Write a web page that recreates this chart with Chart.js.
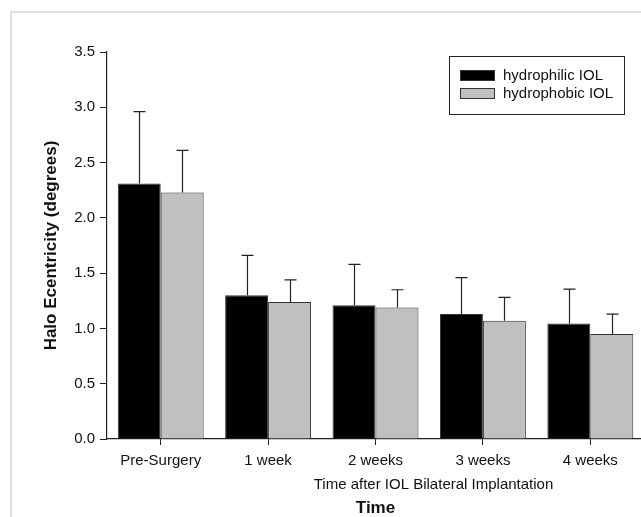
<!DOCTYPE html>
<html>
<head>
<meta charset="utf-8">
<script src="https://cdn.jsdelivr.net/npm/chart.js@4.4.1/dist/chart.umd.min.js"></script>
<style>
html,body{margin:0;padding:0;background:#fff;overflow:hidden;}
#wrap{position:absolute;left:0;top:0;width:650px;height:517px;}
</style>
</head>
<body>
<div id="wrap"><canvas id="c" width="650" height="517"></canvas></div>
<script>
const categories = ["Pre-Surgery", "1 week", "2 weeks", "3 weeks", "4 weeks"];
const seriesNames = ["hydrophilic IOL", "hydrophobic IOL"];
const hydrophilic = [2.31, 1.30, 1.21, 1.13, 1.045];
const hydrophobic = [2.23, 1.24, 1.19, 1.07, 0.95];
const hydrophilicUpper = [2.96, 1.66, 1.58, 1.46, 1.355];
const hydrophobicUpper = [2.61, 1.44, 1.35, 1.28, 1.13];
const yTicks = [0, 0.5, 1.0, 1.5, 2.0, 2.5, 3.0, 3.5];
const yTitle = "Halo Ecentricity (degrees)";
const xTitle = "Time";
const xSubtitle = "Time after IOL Bilateral Implantation";

const FONT = "'Liberation Sans', Arial, sans-serif";
const upperBySeries = [hydrophilicUpper, hydrophobicUpper];

const decor = {
  id: 'decor',
  beforeDraw(chart) {
    const ctx = chart.ctx;
    ctx.save();
    ctx.strokeStyle = '#d4d4d4';
    ctx.lineWidth = 1.5;
    ctx.beginPath();
    ctx.moveTo(11, 517);
    ctx.lineTo(11, 12);
    ctx.lineTo(650, 12);
    ctx.stroke();
    ctx.restore();
  },
  afterDatasetsDraw(chart) {
    const ctx = chart.ctx;
    const y = chart.scales.y;
    ctx.save();
    ctx.strokeStyle = '#222';
    ctx.lineWidth = 1.2;
    chart.data.datasets.forEach((ds, di) => {
      const meta = chart.getDatasetMeta(di);
      meta.data.forEach((bar, i) => {
        const top = y.getPixelForValue(ds.data[i]);
        const up = y.getPixelForValue(upperBySeries[di][i]);
        const x = Math.round(bar.x) + 0.5;
        ctx.beginPath();
        ctx.moveTo(x, top);
        ctx.lineTo(x, up);
        ctx.moveTo(x - 6, up);
        ctx.lineTo(x + 6, up);
        ctx.stroke();
      });
    });
    ctx.restore();
  },
  afterDraw(chart) {
    const ctx = chart.ctx;
    const ca = chart.chartArea;
    ctx.save();
    // legend
    ctx.strokeStyle = '#222';
    ctx.lineWidth = 1;
    ctx.strokeRect(449.5, 56.5, 175, 58);
    chart.data.datasets.forEach((ds, di) => {
      const sy = 70 + di * 18;
      ctx.fillStyle = ds.backgroundColor;
      ctx.fillRect(460, sy, 35, 11);
      ctx.strokeStyle = '#333';
      ctx.strokeRect(460.5, sy + 0.5, 34, 10);
      ctx.fillStyle = '#111';
      ctx.font = "15px " + FONT;
      ctx.textAlign = 'left';
      ctx.textBaseline = 'middle';
      ctx.fillText(ds.label, 503, sy + 5.5);
    });
    // subtitle under category labels
    ctx.fillStyle = '#111';
    ctx.font = "15px " + FONT;
    ctx.textAlign = 'center';
    ctx.textBaseline = 'alphabetic';
    ctx.fillText(xSubtitle, (ca.left + ca.right) / 2 + 58, 489);
    ctx.restore();
  }
};

new Chart(document.getElementById('c'), {
  type: 'bar',
  data: {
    labels: categories,
    datasets: [
      { label: seriesNames[0], data: hydrophilic, backgroundColor: '#000000', borderColor: '#333333', borderWidth: 1 },
      { label: seriesNames[1], data: hydrophobic, backgroundColor: '#c0c0c0', borderColor: '#333333', borderWidth: 1 }
    ]
  },
  options: {
    responsive: false,
    animation: false,
    devicePixelRatio: 1,
    layout: { padding: { left: 0, right: 6, top: 52, bottom: 0 } },
    plugins: { legend: { display: false }, tooltip: { enabled: false } },
    datasets: { bar: { categoryPercentage: 0.8, barPercentage: 1.0 } },
    scales: {
      x: {
        offset: true,
        grid: { offset: false, drawOnChartArea: false, drawTicks: true, tickLength: 6, color: '#222', lineWidth: 1 },
        border: { display: true, color: '#222', width: 1.2 },
        ticks: { color: '#111', font: { family: FONT, size: 15 }, padding: 7, maxRotation: 0, autoSkip: false },
        title: { display: true, text: xTitle, color: '#111', font: { family: FONT, size: 17, weight: 'bold', lineHeight: 1 }, padding: { top: 0, bottom: 0 } },
        afterFit(scale) { scale.height = 78; }
      },
      y: {
        min: 0, max: 3.5,
        afterBuildTicks(scale) { scale.ticks = yTicks.map(v => ({ value: v })); },
        grid: { drawOnChartArea: false, drawTicks: true, tickLength: 7, color: '#222', lineWidth: 1 },
        border: { display: true, color: '#222', width: 1.2 },
        ticks: { color: '#111', font: { family: FONT, size: 15 }, padding: 5, callback: v => Number(v).toFixed(1) },
        title: { display: true, text: yTitle, color: '#111', font: { family: FONT, size: 17, weight: 'bold', lineHeight: 1.2 }, padding: { top: 41, bottom: 0 } },
        afterFit(scale) { scale.width = 107; }
      }
    }
  },
  plugins: [decor]
});
</script>
</body>
</html>
